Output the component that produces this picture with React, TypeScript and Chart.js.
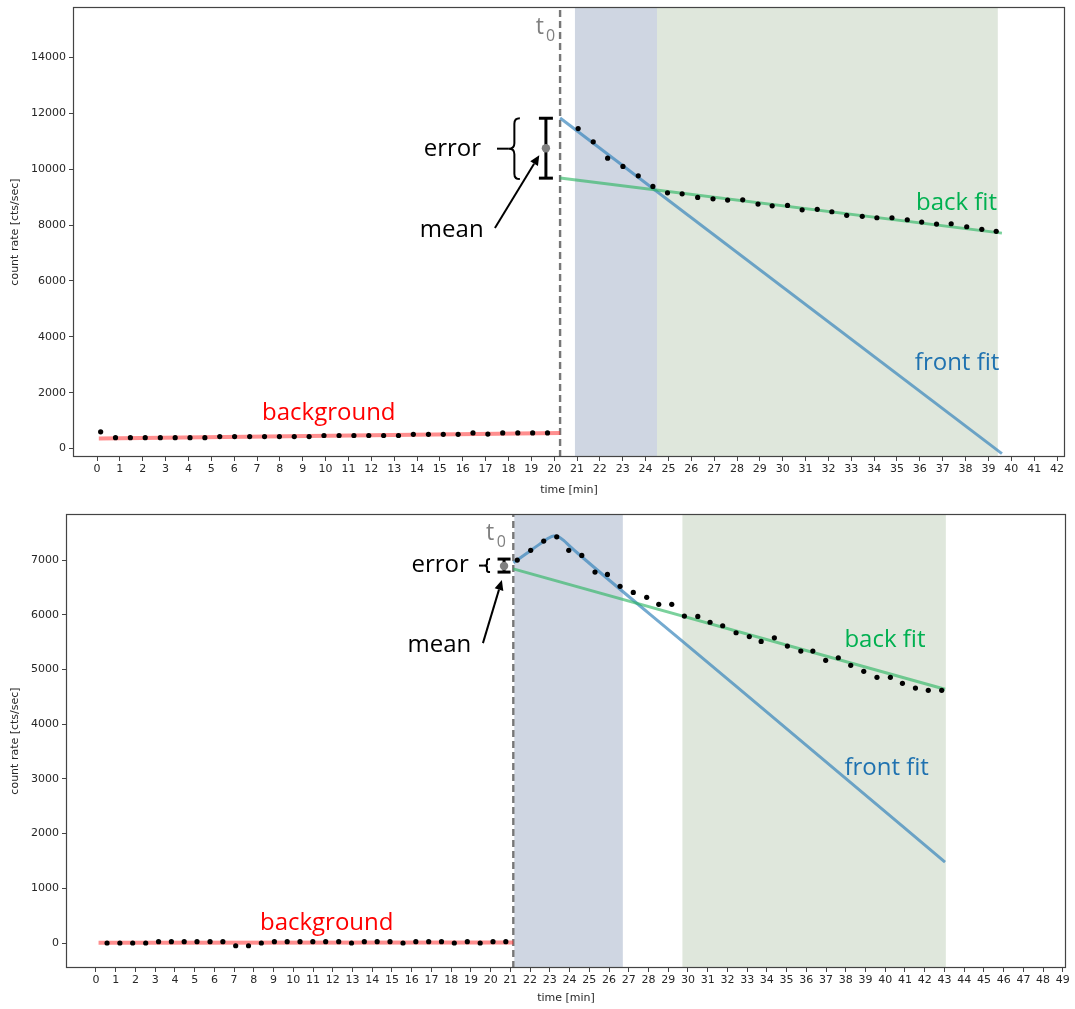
import React, { useEffect, useRef } from "react";
import { Chart, registerables } from "chart.js";

Chart.register(...registerables);

// ---------------- TOP PANEL DATA ----------------
const topXTicks = [0, 1, 2, 3, 4, 5, 6, 7, 8, 9, 10, 11, 12, 13, 14, 15, 16, 17, 18, 19, 20, 21, 22, 23, 24, 25, 26, 27, 28, 29, 30, 31, 32, 33, 34, 35, 36, 37, 38, 39, 40, 41, 42];
const topYTicks = [0, 2000, 4000, 6000, 8000, 10000, 12000, 14000];
const topXRange = [-1.05, 42.35];
const topYRange = [-300, 15800];

const topBgTime = [0.16, 0.81, 1.46, 2.11, 2.77, 3.42, 4.07, 4.72, 5.37, 6.02, 6.68, 7.33, 7.98, 8.63, 9.28, 9.93, 10.59, 11.24, 11.89, 12.54, 13.19, 13.84, 14.5, 15.15, 15.8, 16.45, 17.1, 17.75, 18.41, 19.06, 19.71];
const topBgRate = [600, 390, 390, 390, 390, 390, 390, 390, 430, 430, 430, 430, 430, 430, 430, 470, 470, 470, 470, 470, 470, 510, 510, 510, 510, 560, 520, 560, 560, 560, 560];

const topFrontTime = [21.05, 21.71, 22.34, 23.01, 23.68, 24.32];
const topFrontRate = [11450, 10975, 10393, 10095, 9761, 9382];

const topBackTime = [24.96, 25.6, 26.28, 26.95, 27.59, 28.25, 28.92, 29.54, 30.21, 30.85, 31.51, 32.15, 32.8, 33.48, 34.12, 34.78, 35.45, 36.08, 36.73, 37.37, 38.05, 38.71, 39.34];
const topBackRate = [9153, 9117, 8988, 8938, 8891, 8902, 8750, 8688, 8702, 8545, 8560, 8474, 8345, 8310, 8260, 8260, 8188, 8106, 8035, 8045, 7938, 7845, 7774];

const topBgFitTime = [0.08, 20.26];
const topBgFitRate = [360, 560];
const topFrontFitTime = [20.26, 39.59];
const topFrontFitRate = [11830, -180];
const topBackFitTime = [20.26, 39.59];
const topBackFitRate = [9680, 7710];

const topT0 = [20.26];
const topFrontSpan = [20.91, 24.5];
const topBackSpan = [24.5, 39.41];
// error bar: [x, low, high, mean]
const topError = [19.64, 9677, 11820, 10749];

// ---------------- BOTTOM PANEL DATA ----------------
const botXTicks = [0, 1, 2, 3, 4, 5, 6, 7, 8, 9, 10, 11, 12, 13, 14, 15, 16, 17, 18, 19, 20, 21, 22, 23, 24, 25, 26, 27, 28, 29, 30, 31, 32, 33, 34, 35, 36, 37, 38, 39, 40, 41, 42, 43, 44, 45, 46, 47, 48, 49];
const botYTicks = [0, 1000, 2000, 3000, 4000, 5000, 6000, 7000];
const botXRange = [-1.52, 49.16];
const botYRange = [-457, 7843];

const botBgTime = [0.56, 1.21, 1.86, 2.52, 3.17, 3.82, 4.47, 5.12, 5.78, 6.43, 7.08, 7.73, 8.38, 9.04, 9.69, 10.34, 10.99, 11.64, 12.3, 12.95, 13.6, 14.25, 14.9, 15.56, 16.21, 16.86, 17.51, 18.16, 18.82, 19.47, 20.12, 20.77];
const botBgRate = [0, 0, 0, 0, 25, 25, 25, 25, 25, 25, -50, -50, 0, 25, 25, 25, 25, 25, 25, 0, 25, 25, 25, 0, 25, 25, 25, 0, 25, 0, 25, 25];

const botSignalTime = [21.35, 22.03, 22.69, 23.35, 23.96, 24.62, 25.29, 25.92, 26.56, 27.23, 27.91, 28.52, 29.18, 29.82, 30.5, 31.12, 31.76, 32.44, 33.11, 33.71, 34.38, 35.04, 35.72, 36.33, 36.98, 37.62, 38.25, 38.91, 39.58, 40.26, 40.87, 41.53, 42.18, 42.86];
const botSignalRate = [7000, 7178, 7348, 7426, 7178, 7086, 6781, 6739, 6520, 6410, 6319, 6191, 6191, 5977, 5971, 5864, 5800, 5672, 5602, 5514, 5580, 5429, 5337, 5337, 5167, 5215, 5076, 4966, 4857, 4857, 4747, 4661, 4619, 4619];

const botBgFitTime = [0.13, 21.15];
const botBgFitRate = [5, 10];
const botFrontFitTime = [21.15, 21.6, 22.1, 22.6, 22.9, 23.2, 23.45, 23.7, 24.0, 24.4, 30.0, 36.5, 43.03];
const botFrontFitRate = [6950, 7065, 7195, 7320, 7395, 7440, 7425, 7360, 7260, 7130, 5433, 3464, 1480];
const botBackFitTime = [21.15, 43.03];
const botBackFitRate = [6840, 4640];

const botT0 = [21.15];
const botFrontSpan = [21.2, 26.7];
const botBackSpan = [29.72, 43.07];
const botError = [20.68, 6781, 7019, 6891];

// ---------------- STYLE ----------------
const COLORS = {
  point: "#000000",
  bgFit: "rgba(255,50,50,0.55)",
  frontFit: "rgba(50,130,185,0.68)",
  backFit: "rgba(40,180,95,0.62)",
  t0: "#777777",
  frontSpan: "#cfd6e2",
  backSpan: "#dfe7dc",
  mean: "#808080",
  axis: "#444444",
  tick: "#262626",
  txtBack: "#00b050",
  txtFront: "#1f72b0",
  txtBg: "#ff0000",
  txtT0: "#808080",
};

const ANNOT_FONT = '"Open Sans", "Noto Sans", sans-serif';

type TextSpec = { text: string; x: number; y: number; color: string; size: number; align: CanvasTextAlign };
type Spec = {
  spans: { from: number; to: number; color: string }[];
  texts: TextSpec[];
  brace: { xDash: number; xTip: number; xRight: number; yTop: number; yBot: number };
  arrow: { x0: number; y0: number; x1: number; y1: number };
};

function makeAnnotPlugin(spec: Spec) {
  return {
    id: "annot",
    beforeDatasetsDraw(chart: any) {
      const { ctx, chartArea: a, scales } = chart;
      ctx.save();
      for (const s of spec.spans) {
        const x0 = scales.x.getPixelForValue(s.from);
        const x1 = scales.x.getPixelForValue(s.to);
        ctx.fillStyle = s.color;
        ctx.fillRect(x0, a.top, x1 - x0, a.bottom - a.top);
      }
      ctx.restore();
    },
    afterDraw(chart: any) {
      const { ctx, chartArea: a, scales } = chart;
      const px = (v: number) => scales.x.getPixelForValue(v);
      const py = (v: number) => scales.y.getPixelForValue(v);
      ctx.save();
      // frame
      ctx.strokeStyle = COLORS.axis;
      ctx.lineWidth = 1.2;
      ctx.strokeRect(Math.round(a.left) + 0.5, Math.round(a.top) + 0.5, Math.round(a.right - a.left) - 1, Math.round(a.bottom - a.top) - 1);

      // texts
      for (const t of spec.texts) {
        ctx.font = `${t.size}px ${ANNOT_FONT}`;
        ctx.fillStyle = t.color;
        ctx.textAlign = t.align;
        ctx.textBaseline = "alphabetic";
        ctx.fillText(t.text, px(t.x), py(t.y));
      }

      // brace
      const b = spec.brace;
      const xd = px(b.xDash), xt = px(b.xTip), xr = px(b.xRight);
      const yt = py(b.yTop), yb = py(b.yBot);
      const yc = (yt + yb) / 2;
      const xm = (xt + xr) / 2;
      const r = Math.min((xr - xt) / 2, (yb - yt) / 6);
      ctx.strokeStyle = "#000";
      ctx.lineWidth = 2;
      ctx.beginPath();
      ctx.moveTo(xr, yt);
      ctx.quadraticCurveTo(xm, yt, xm, yt + r);
      ctx.lineTo(xm, yc - r);
      ctx.quadraticCurveTo(xm, yc, xt, yc);
      ctx.quadraticCurveTo(xm, yc, xm, yc + r);
      ctx.lineTo(xm, yb - r);
      ctx.quadraticCurveTo(xm, yb, xr, yb);
      ctx.stroke();
      ctx.beginPath();
      ctx.moveTo(xd, yc);
      ctx.lineTo(xt, yc);
      ctx.stroke();

      // arrow
      const ar = spec.arrow;
      const ax0 = px(ar.x0), ay0 = py(ar.y0), ax1 = px(ar.x1), ay1 = py(ar.y1);
      const ang = Math.atan2(ay1 - ay0, ax1 - ax0);
      const hl = 10, hw = 4.5;
      const bx = ax1 - hl * Math.cos(ang), by = ay1 - hl * Math.sin(ang);
      ctx.beginPath();
      ctx.moveTo(ax0, ay0);
      ctx.lineTo(bx, by);
      ctx.stroke();
      ctx.fillStyle = "#000";
      ctx.beginPath();
      ctx.moveTo(ax1, ay1);
      ctx.lineTo(bx + hw * Math.sin(ang), by - hw * Math.cos(ang));
      ctx.lineTo(bx - hw * Math.sin(ang), by + hw * Math.cos(ang));
      ctx.closePath();
      ctx.fill();
      ctx.restore();
    },
  };
}

function pts(xs: number[], ys: number[]) {
  return xs.map((x, i) => ({ x, y: ys[i] }));
}

type Panel = {
  xTicks: number[];
  yTicks: number[];
  xRange: number[];
  yRange: number[];
  points: { x: number; y: number }[];
  bgFit: { x: number; y: number }[];
  frontFit: { x: number; y: number }[];
  backFit: { x: number; y: number }[];
  t0: number;
  error: number[];
  capRadius: number;
  yAxisWidth: number;
  xAxisHeight: number;
  padding: { top: number; right: number; bottom: number; left: number };
  spec: Spec;
  smoothFront: boolean;
};

function buildChart(canvas: HTMLCanvasElement, p: Panel) {
  const tickFont = { family: '"DejaVu Sans", sans-serif', size: 11 };
  return new Chart(canvas, {
    type: "scatter",
    data: {
      datasets: [
        {
          data: p.points,
          pointRadius: 2.6,
          pointBackgroundColor: COLORS.point,
          pointBorderWidth: 0,
          showLine: false,
        },
        {
          data: [{ x: p.error[0], y: p.error[3] }],
          pointRadius: 4.2,
          pointBackgroundColor: COLORS.mean,
          pointBorderWidth: 0,
          showLine: false,
        },
        {
          data: [
            { x: p.error[0], y: p.error[1] },
            { x: p.error[0], y: p.error[2] },
          ],
          showLine: true,
          borderColor: "#000",
          borderWidth: 3,
          pointStyle: "line",
          pointRadius: p.capRadius,
          pointBorderWidth: 3,
          pointBorderColor: "#000",
        },
        {
          data: p.bgFit,
          showLine: true,
          borderColor: COLORS.bgFit,
          borderWidth: 4,
          pointRadius: 0,
        },
        {
          data: p.backFit,
          showLine: true,
          borderColor: COLORS.backFit,
          borderWidth: 3,
          pointRadius: 0,
        },
        {
          data: p.frontFit,
          showLine: true,
          borderColor: COLORS.frontFit,
          borderWidth: 3,
          pointRadius: 0,
          cubicInterpolationMode: p.smoothFront ? "monotone" : "default",
        },
        {
          data: [
            { x: p.t0, y: p.yRange[0] },
            { x: p.t0, y: p.yRange[1] },
          ],
          showLine: true,
          borderColor: COLORS.t0,
          borderWidth: 2.4,
          borderDash: [7, 4],
          pointRadius: 0,
        },
      ] as any,
    },
    options: {
      animation: false,
      responsive: false,
      devicePixelRatio: 1,
      layout: { padding: p.padding, autoPadding: false },
      plugins: { legend: { display: false }, tooltip: { enabled: false } },
      events: [],
      scales: {
        x: {
          type: "linear",
          min: p.xRange[0],
          max: p.xRange[1],
          afterBuildTicks: (s: any) => {
            s.ticks = p.xTicks.map((v) => ({ value: v }));
          },
          afterFit: (s: any) => {
            s.height = p.xAxisHeight;
            s.paddingLeft = 0;
            s.paddingRight = 0;
          },
          ticks: { font: tickFont, color: COLORS.tick, padding: 2, maxRotation: 0, autoSkip: false, callback: (v: any) => String(v) },
          grid: { display: true, drawOnChartArea: false, drawTicks: true, tickLength: 4, color: COLORS.axis },
          border: { display: false },
          title: { display: true, text: "time [min]", font: tickFont, color: COLORS.tick, padding: { top: 2, bottom: 4 } },
        },
        y: {
          type: "linear",
          min: p.yRange[0],
          max: p.yRange[1],
          afterBuildTicks: (s: any) => {
            s.ticks = p.yTicks.map((v) => ({ value: v }));
          },
          afterFit: (s: any) => {
            s.width = p.yAxisWidth;
            s.paddingTop = 0;
            s.paddingBottom = 0;
          },
          ticks: { font: tickFont, color: COLORS.tick, padding: 3, callback: (v: any) => String(v) },
          grid: { display: true, drawOnChartArea: false, drawTicks: true, tickLength: 4, color: COLORS.axis },
          border: { display: false },
          title: { display: true, text: "count rate [cts/sec]", font: tickFont, color: COLORS.tick, padding: { top: 9, bottom: 4 } },
        },
      },
    } as any,
    plugins: [makeAnnotPlugin(p.spec)],
  });
}

const topPanel: Panel = {
  xTicks: topXTicks,
  yTicks: topYTicks,
  xRange: topXRange,
  yRange: topYRange,
  points: [...pts(topBgTime, topBgRate), ...pts(topFrontTime, topFrontRate), ...pts(topBackTime, topBackRate)],
  bgFit: pts(topBgFitTime, topBgFitRate),
  frontFit: pts(topFrontFitTime, topFrontFitRate),
  backFit: pts(topBackFitTime, topBackFitRate),
  t0: topT0[0],
  error: topError,
  capRadius: 7,
  yAxisWidth: 73,
  xAxisHeight: 44,
  padding: { top: 7, right: 10, bottom: 4, left: 0 },
  smoothFront: false,
  spec: {
    spans: [
      { from: topFrontSpan[0], to: topFrontSpan[1], color: COLORS.frontSpan },
      { from: topBackSpan[0], to: topBackSpan[1], color: COLORS.backSpan },
    ],
    texts: [
      { text: "t", x: 19.2, y: 14820, color: COLORS.txtT0, size: 23, align: "left" },
      { text: "0", x: 19.64, y: 14570, color: COLORS.txtT0, size: 16, align: "left" },
      { text: "error", x: 15.55, y: 10463, color: "#000", size: 24, align: "center" },
      { text: "mean", x: 15.52, y: 7588, color: "#000", size: 24, align: "center" },
      { text: "back fit", x: 35.83, y: 8535, color: COLORS.txtBack, size: 24, align: "left" },
      { text: "front fit", x: 35.78, y: 2821, color: COLORS.txtFront, size: 24, align: "left" },
      { text: "background", x: 7.22, y: 1036, color: COLORS.txtBg, size: 24, align: "left" },
    ],
    brace: { xDash: 17.5, xTip: 18.02, xRight: 18.5, yTop: 11820, yBot: 9642 },
    arrow: { x0: 17.41, y0: 7892, x1: 19.35, y1: 10499 },
  },
};

const botPanel: Panel = {
  xTicks: botXTicks,
  yTicks: botYTicks,
  xRange: botXRange,
  yRange: botYRange,
  points: [...pts(botBgTime, botBgRate), ...pts(botSignalTime, botSignalRate)],
  bgFit: pts(botBgFitTime, botBgFitRate),
  frontFit: pts(botFrontFitTime, botFrontFitRate),
  backFit: pts(botBackFitTime, botBackFitRate),
  t0: botT0[0],
  error: botError,
  capRadius: 6.5,
  yAxisWidth: 66,
  xAxisHeight: 41,
  padding: { top: 9, right: 9, bottom: 0, left: 0 },
  smoothFront: true,
  spec: {
    spans: [
      { from: botFrontSpan[0], to: botFrontSpan[1], color: COLORS.frontSpan },
      { from: botBackSpan[0], to: botBackSpan[1], color: COLORS.backSpan },
    ],
    texts: [
      { text: "t", x: 19.77, y: 7366, color: COLORS.txtT0, size: 23, align: "left" },
      { text: "0", x: 20.31, y: 7244, color: COLORS.txtT0, size: 16, align: "left" },
      { text: "error", x: 17.44, y: 6781, color: "#000", size: 24, align: "center" },
      { text: "mean", x: 17.4, y: 5319, color: "#000", size: 24, align: "center" },
      { text: "back fit", x: 37.93, y: 5419, color: COLORS.txtBack, size: 24, align: "left" },
      { text: "front fit", x: 37.93, y: 3071, color: COLORS.txtFront, size: 24, align: "left" },
      { text: "background", x: 8.31, y: 243, color: COLORS.txtBg, size: 24, align: "left" },
    ],
    brace: { xDash: 19.41, xTip: 19.66, xRight: 19.97, yTop: 7019, yBot: 6781 },
    arrow: { x0: 19.61, y0: 5483, x1: 20.57, y1: 6635 },
  },
};

export default function App() {
  const topRef = useRef<HTMLCanvasElement>(null);
  const botRef = useRef<HTMLCanvasElement>(null);

  useEffect(() => {
    const c1 = buildChart(topRef.current as HTMLCanvasElement, topPanel);
    const c2 = buildChart(botRef.current as HTMLCanvasElement, botPanel);
    return () => {
      c1.destroy();
      c2.destroy();
    };
  }, []);

  return (
    <div style={{ position: "absolute", left: 0, top: 0, width: 1075, height: 1009, background: "#fff" }}>
      <canvas ref={topRef} width={1075} height={505} style={{ position: "absolute", left: 0, top: 0, width: 1075, height: 505 }} />
      <canvas ref={botRef} width={1075} height={504} style={{ position: "absolute", left: 0, top: 505, width: 1075, height: 504 }} />
    </div>
  );
}
